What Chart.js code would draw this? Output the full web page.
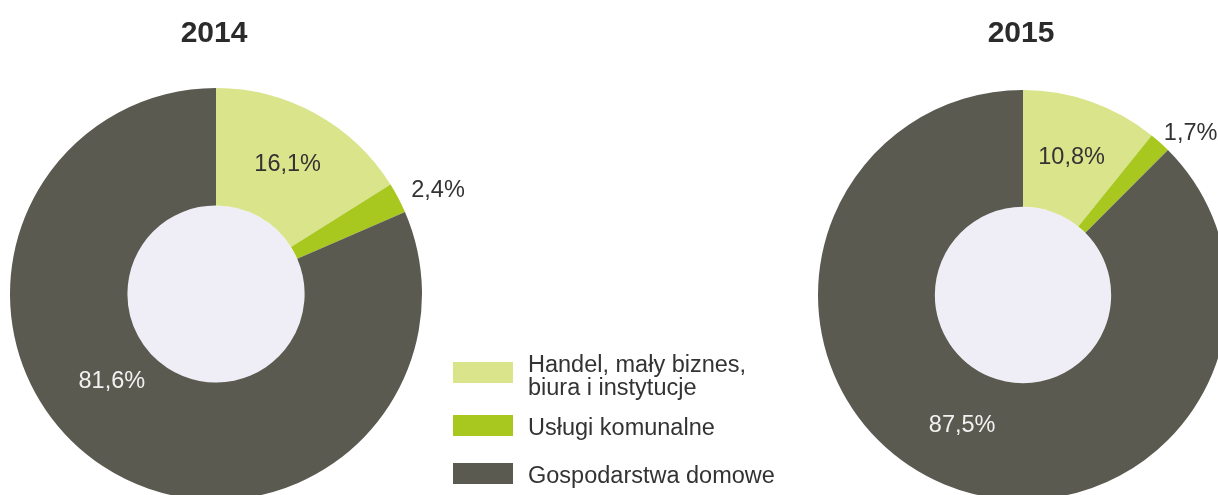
<!DOCTYPE html>
<html>
<head>
<meta charset="utf-8">
<script src="https://cdn.jsdelivr.net/npm/chart.js@4/dist/chart.umd.min.js"></script>
<style>
  html, body { margin: 0; padding: 0; background: #fff; }
  body { width: 1218px; height: 495px; overflow: hidden; position: relative;
         font-family: "Liberation Sans", Arial, sans-serif; }
  .wrap { position: absolute; top: 0; height: 520px; }
  #w2014 { left: 0; width: 480px; }
  #w2015 { left: 780px; width: 460px; }
  .lg-box { position: absolute; left: 453px; width: 60px; height: 21px; }
  .lg-txt { position: absolute; left: 528px; font-size: 23.5px; line-height: 23px; color: #333; white-space: nowrap; }
</style>
</head>
<body>
<div class="wrap" id="w2014"><canvas id="c2014"></canvas></div>
<div class="wrap" id="w2015"><canvas id="c2015"></canvas></div>
<div id="legend"></div>

<script>
/* ── Data ─────────────────────────────────────────── */
const categories = ["Handel, mały biznes,\nbiura i instytucje", "Usługi komunalne", "Gospodarstwa domowe"];
const values2014 = [16.1, 2.4, 81.6];
const values2015 = [10.8, 1.7, 87.5];
const years = ["2014", "2015"];

/* ── Style ────────────────────────────────────────── */
const colors     = ["#d9e48b", "#a8c71f", "#5b5a51"];
const labelInk   = ["#333333", "#333333", "#f2f2f2"];
const holeColor  = "#efeef6";
const FONT       = '"Liberation Sans", Arial, sans-serif';

// label placement: radius in px from centre, angle in degrees (null = slice middle)
const place2014 = [{ r: 148, a: null }, { r: 245, a: -25 }, { r: 136, a: 140 }];
const place2015 = [{ r: 146, a: null }, { r: 233, a: -44 }, { r: 144, a: 115 }];

const fmt = v => v.toFixed(1).replace(".", ",") + "%";

/* ── Plugin: hole, title, slice labels ────────────── */
const decor = {
  id: "decor",
  beforeDatasetsDraw(chart) {
    const arc = chart.getDatasetMeta(0).data[0];
    const ctx = chart.ctx;
    ctx.save();
    ctx.fillStyle = holeColor;
    ctx.beginPath();
    ctx.arc(arc.x, arc.y, arc.innerRadius, 0, Math.PI * 2);
    ctx.fill();
    ctx.restore();
  },
  afterDatasetsDraw(chart, args, opts) {
    const ctx  = chart.ctx;
    const arcs = chart.getDatasetMeta(0).data;
    const vals = chart.data.datasets[0].data;
    ctx.save();
    ctx.textAlign = "center";

    ctx.font = "bold 30px " + FONT;
    ctx.fillStyle = "#2b2b2b";
    ctx.textBaseline = "alphabetic";
    ctx.fillText(opts.title, arcs[0].x - 2, 42);

    ctx.font = "23.5px " + FONT;
    ctx.textBaseline = "middle";
    arcs.forEach((a, i) => {
      const p = opts.place[i];
      const ang = p.a === null ? (a.startAngle + a.endAngle) / 2 : p.a * Math.PI / 180;
      ctx.fillStyle = labelInk[i];
      ctx.fillText(fmt(vals[i]), a.x + Math.cos(ang) * p.r, a.y + Math.sin(ang) * p.r);
    });
    ctx.restore();
  }
};

function makeChart(id, values, title, place, padding) {
  return new Chart(document.getElementById(id), {
    type: "doughnut",
    data: {
      labels: categories,
      datasets: [{
        data: values,
        backgroundColor: colors,
        borderWidth: 0,
        hoverOffset: 0,
        offset: 0
      }]
    },
    options: {
      responsive: true,
      maintainAspectRatio: false,
      animation: false,
      cutout: "43%",
      layout: { padding },
      plugins: {
        legend: { display: false },
        tooltip: { enabled: false },
        decor: { title, place }
      }
    },
    plugins: [decor]
  });
}

makeChart("c2014", values2014, years[0], place2014, { left: 10, top: 88, right: 58, bottom: 20 });
makeChart("c2015", values2015, years[1], place2015, { left: 38, top: 90, right: 12, bottom: 20 });

/* ── Legend (HTML) ────────────────────────────────── */
const legendBoxTop = [362, 415, 463];
const legendTxtTop = [352.5, 415.5, 463.5];
const legendEl = document.getElementById("legend");
categories.forEach((c, i) => {
  const box = document.createElement("div");
  box.className = "lg-box";
  box.style.top = legendBoxTop[i] + "px";
  box.style.background = colors[i];
  const txt = document.createElement("div");
  txt.className = "lg-txt";
  txt.style.top = legendTxtTop[i] + "px";
  txt.innerHTML = c.split("\n").join("<br>");
  legendEl.appendChild(box);
  legendEl.appendChild(txt);
});
</script>
</body>
</html>
